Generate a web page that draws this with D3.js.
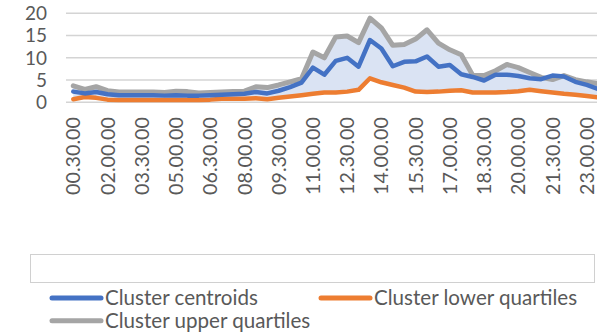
<!DOCTYPE html>
<html>
<head>
<meta charset="utf-8">
<script src="https://cdn.jsdelivr.net/npm/d3@7"></script>
<style>
  html, body { margin: 0; padding: 0; background: #ffffff; }
  svg { display: block; }
  text { font-family: Lato, "Open Sans", sans-serif; fill: #595959; }
</style>
</head>
<body>
<svg id="chart" width="597" height="334"></svg>
<script>
// Half-hourly time slots
const categories = [
  "00.30.00","01.00.00","01.30.00","02.00.00","02.30.00","03.00.00","03.30.00","04.00.00",
  "04.30.00","05.00.00","05.30.00","06.00.00","06.30.00","07.00.00","07.30.00","08.00.00",
  "08.30.00","09.00.00","09.30.00","10.00.00","10.30.00","11.00.00","11.30.00","12.00.00",
  "12.30.00","13.00.00","13.30.00","14.00.00","14.30.00","15.00.00","15.30.00","16.00.00",
  "16.30.00","17.00.00","17.30.00","18.00.00","18.30.00","19.00.00","19.30.00","20.00.00",
  "20.30.00","21.00.00","21.30.00","22.00.00","22.30.00","23.00.00","23.30.00"
];

// Labelled slots on the category axis
const tickLabels = [
  "00.30.00","02.00.00","03.30.00","05.00.00","06.30.00","08.00.00","09.30.00","11.00.00",
  "12.30.00","14.00.00","15.30.00","17.00.00","18.30.00","20.00.00","21.30.00","23.00.00"
];

const yTicks = [0, 5, 10, 15, 20];

const centroids = [
  2.4,2.0,2.3,1.8,1.6,1.6,1.6,1.6,1.5,1.6,
  1.5,1.5,1.6,1.7,1.8,1.9,2.3,2.0,2.6,3.4,
  4.4,7.8,6.2,9.3,10.0,8.0,14.0,12.1,8.1,9.1,
  9.2,10.3,8.0,8.4,6.3,5.7,4.9,6.2,6.2,5.9,
  5.4,5.2,6.0,5.8,4.6,3.9,3.0
];

const lowerQuartiles = [
  0.7,1.2,1.0,0.6,0.5,0.5,0.5,0.5,0.5,0.5,
  0.5,0.5,0.6,0.8,0.8,0.8,0.9,0.7,1.0,1.3,
  1.6,1.9,2.2,2.2,2.4,2.8,5.4,4.5,3.9,3.3,
  2.4,2.3,2.4,2.6,2.7,2.2,2.2,2.2,2.3,2.5,
  2.8,2.5,2.2,1.9,1.7,1.4,1.1
];

const upperQuartiles = [
  3.7,2.9,3.5,2.6,2.3,2.3,2.3,2.3,2.2,2.5,
  2.4,2.1,2.2,2.3,2.4,2.5,3.5,3.3,3.9,4.6,
  5.3,11.3,10.0,14.7,14.9,13.4,18.9,16.7,12.8,13.0,
  14.2,16.3,13.3,11.8,10.7,6.1,6.0,7.1,8.5,7.8,
  6.7,5.6,5.1,6.0,5.1,4.6,4.2
];

const seriesNames = ["Cluster centroids", "Cluster lower quartiles", "Cluster upper quartiles"];

const colors = {
  centroid: "#4472C4",
  lower: "#ED7D31",
  upper: "#A5A5A5",
  band: "#DAE3F3",
  grid: "#D4D4D4",
  box: "#D0D0D0"
};

const svg = d3.select("#chart");
const W = 597;

// Scales: point per half-hour slot, plot runs off the right edge
const step = 11.41;
const x = d3.scalePoint()
  .domain(categories)
  .range([73.3, 73.3 + step * (categories.length - 1)]);

const y = d3.scaleLinear().domain([0, 20]).range([102.3, 13.3]);

const plotLeft = 66;

// Horizontal gridlines
svg.append("g")
  .selectAll("line")
  .data(yTicks)
  .join("line")
  .attr("x1", plotLeft).attr("x2", W)
  .attr("y1", d => y(d)).attr("y2", d => y(d))
  .attr("stroke", colors.grid)
  .attr("stroke-width", 1.6);

// Helper: size text so a sample string spans a given width
function fitSize(sample, target, base) {
  const t = svg.append("text").style("font-size", base + "px").text(sample);
  const w = t.node().getComputedTextLength();
  t.remove();
  return base * target / w;
}

// Value axis labels
const yFont = fitSize("20", 22, 20);
svg.append("g")
  .selectAll("text")
  .data(yTicks)
  .join("text")
  .attr("x", 47)
  .attr("y", d => y(d))
  .attr("dy", "0.36em")
  .attr("text-anchor", "end")
  .style("font-size", yFont + "px")
  .text(d => d);

// Category axis labels, rotated
const xFont = fitSize("00.30.00", 78, 20);
svg.append("g")
  .selectAll("text")
  .data(tickLabels)
  .join("text")
  .attr("transform", d => `translate(${x(d)},117) rotate(-90)`)
  .attr("dy", "0.36em")
  .attr("text-anchor", "end")
  .style("font-size", xFont + "px")
  .text(d => d);

// Band between lower and upper quartiles
const idx = d3.range(categories.length);
const band = d3.area()
  .x(i => x(categories[i]))
  .y0(i => y(lowerQuartiles[i]))
  .y1(i => y(upperQuartiles[i]));

svg.append("path")
  .datum(idx)
  .attr("d", band)
  .attr("fill", colors.band);

function drawLine(values, color, width) {
  const line = d3.line()
    .x((d, i) => x(categories[i]))
    .y(d => y(d));
  svg.append("path")
    .datum(values)
    .attr("d", line)
    .attr("fill", "none")
    .attr("stroke", color)
    .attr("stroke-width", width)
    .attr("stroke-linejoin", "round")
    .attr("stroke-linecap", "round");
}

drawLine(upperQuartiles, colors.upper, 5);
drawLine(lowerQuartiles, colors.lower, 4.5);
drawLine(centroids, colors.centroid, 4.5);

// Empty title box above the legend
svg.append("rect")
  .attr("x", 30.5).attr("y", 254.5)
  .attr("width", 564).attr("height", 28)
  .attr("fill", "none")
  .attr("stroke", colors.box)
  .attr("stroke-width", 1);

// Legend
const legendFont = fitSize(seriesNames[0], 153, 20);
const legendItems = [
  { name: seriesNames[0], color: colors.centroid, x: 50, y: 298 },
  { name: seriesNames[1], color: colors.lower, x: 319, y: 298 },
  { name: seriesNames[2], color: colors.upper, x: 50, y: 320.7 }
];

const lg = svg.append("g")
  .selectAll("g")
  .data(legendItems)
  .join("g")
  .attr("transform", d => `translate(${d.x},${d.y})`);

lg.append("line")
  .attr("x1", 2).attr("x2", 51)
  .attr("y1", 0).attr("y2", 0)
  .attr("stroke", d => d.color)
  .attr("stroke-width", 5)
  .attr("stroke-linecap", "round");

lg.append("text")
  .attr("x", 55)
  .attr("y", 0)
  .attr("dy", "0.34em")
  .style("font-size", legendFont + "px")
  .text(d => d.name);
</script>
</body>
</html>
